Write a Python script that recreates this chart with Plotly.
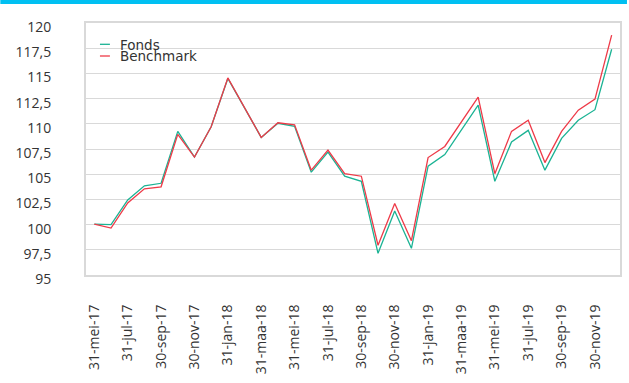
import plotly.graph_objects as go

# Month-end reporting dates (Dutch abbreviations)
dates = [
    "31-mei-17", "30-jun-17", "31-jul-17", "31-aug-17", "30-sep-17", "31-okt-17",
    "30-nov-17", "31-dec-17", "31-jan-18", "28-feb-18", "31-maa-18", "30-apr-18",
    "31-mei-18", "30-jun-18", "31-jul-18", "31-aug-18", "30-sep-18", "31-okt-18",
    "30-nov-18", "31-dec-18", "31-jan-19", "28-feb-19", "31-maa-19", "30-apr-19",
    "31-mei-19", "30-jun-19", "31-jul-19", "31-aug-19", "30-sep-19", "31-okt-19",
    "30-nov-19", "31-dec-19",
]

# Indexed value, start = 100
fonds = [
    100.05, 100.0, 102.45, 103.85, 104.1, 109.25, 106.7, 109.7, 114.5, 111.6,
    108.65, 110.05, 109.75, 105.2, 107.2, 104.8, 104.3, 97.15, 101.35, 97.65,
    105.8, 106.95, 109.35, 111.85, 104.3, 108.2, 109.35, 105.4, 108.55, 110.35,
    111.4, 117.4,
]
benchmark = [
    100.05, 99.65, 102.15, 103.55, 103.75, 108.95, 106.7, 109.7, 114.55, 111.6,
    108.65, 110.1, 109.9, 105.4, 107.4, 105.05, 104.8, 97.95, 102.1, 98.4,
    106.65, 107.75, 110.15, 112.65, 105.05, 109.25, 110.35, 106.15, 109.25, 111.35,
    112.45, 118.8,
]

tick_labels = dates[::2]

GREEN = "#1bb394"
RED = "#ee3a48"
TEXT = "#333333"
GRID = "#d9d9d9"

fig = go.Figure()
fig.add_trace(go.Scatter(x=dates, y=fonds, name="Fonds", mode="lines",
                         line=dict(color=GREEN, width=1.3)))
fig.add_trace(go.Scatter(x=dates, y=benchmark, name="Benchmark", mode="lines",
                         line=dict(color=RED, width=1.3)))

W, H = 629, 383
L, R, T, B = 86, 7, 23, 108
pw, ph = W - L - R, H - T - B


def px_x(px):
    return (px - L) / pw


def px_y(py):
    return (H - B - py) / ph


shapes = [
    # cyan band along the top edge
    dict(type="rect", xref="paper", yref="paper", x0=px_x(0), x1=px_x(W),
         y0=px_y(4), y1=px_y(0), fillcolor="#00c0f2", line=dict(width=0), layer="above"),
    # legend swatches
    dict(type="line", xref="paper", yref="paper", x0=px_x(100), x1=px_x(110),
         y0=px_y(44.3), y1=px_y(44.3), line=dict(color=GREEN, width=1.3)),
    dict(type="line", xref="paper", yref="paper", x0=px_x(100), x1=px_x(110),
         y0=px_y(56), y1=px_y(56), line=dict(color=RED, width=1.3)),
]

annotations = [
    dict(text="Fonds", xref="paper", yref="paper", x=px_x(118), y=px_y(44.5),
         xanchor="left", yanchor="middle", showarrow=False,
         font=dict(family="DejaVu Sans", size=13.5, color=TEXT)),
    dict(text="Benchmark", xref="paper", yref="paper", x=px_x(118), y=px_y(56.5),
         xanchor="left", yanchor="middle", showarrow=False,
         font=dict(family="DejaVu Sans", size=13.5, color=TEXT)),
]

fig.update_layout(
    width=W, height=H,
    margin=dict(l=L, r=R, t=T, b=B, pad=0),
    paper_bgcolor="white", plot_bgcolor="white",
    separators=", ",
    showlegend=False,
    shapes=shapes,
    annotations=annotations,
    font=dict(family="Open Sans", size=14, color=TEXT),
)

fig.update_xaxes(
    type="category", categoryorder="array", categoryarray=dates,
    range=[-0.5, len(dates) - 0.5],
    tickmode="array", tickvals=tick_labels, ticktext=tick_labels,
    tickangle=-90, ticks="", ticklabelstandoff=22,
    showgrid=False, zeroline=False,
    showline=True, mirror=True, linecolor=GRID, linewidth=2,
    tickfont=dict(family="Open Sans", size=14, color=TEXT),
)
fig.update_yaxes(
    range=[95, 120], dtick=2.5, tick0=95,
    showgrid=True, gridcolor=GRID, gridwidth=1, zeroline=False,
    showline=True, mirror=True, linecolor=GRID, linewidth=2,
    ticks="", ticklabelstandoff=30, ticklabelshift=4,
    tickfont=dict(family="Open Sans", size=14, color=TEXT),
)

fig.write_html("out.html")
